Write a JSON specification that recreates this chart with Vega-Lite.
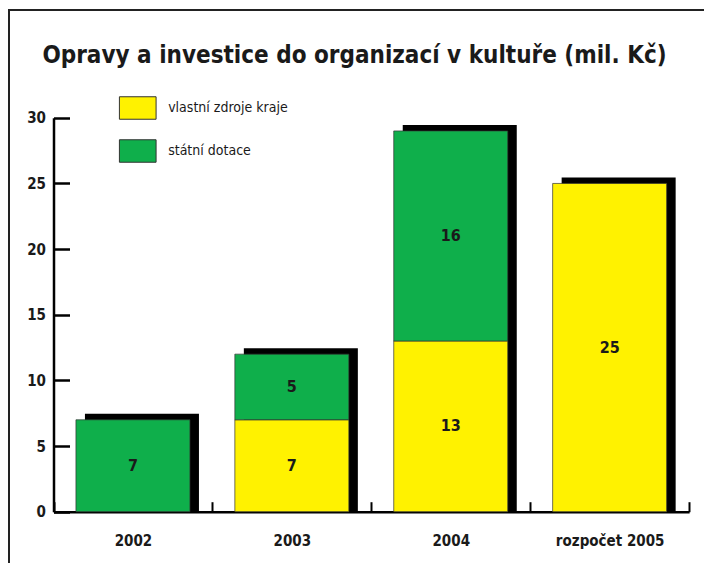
{
  "$schema": "https://vega.github.io/schema/vega-lite/v6.json",
  "width": 695,
  "height": 553,
  "autosize": {"type": "none"},
  "padding": {"left": 9, "top": 10, "right": 0, "bottom": 0},
  "background": "white",
  "title": {
    "text": "Opravy a investice do organizací v kultuře (mil. Kč)",
    "anchor": "middle",
    "offset": -77,
    "baseline": "alphabetic",
    "dx": -2,
    "fontSize": 24,
    "font": "DejaVu Sans Condensed",
    "fontWeight": "bold",
    "color": "#1a1a1a"
  },
  "data": {
    "values": [
      {"year": "2002", "source": "státní dotace", "value": 7},
      {"year": "2003", "source": "vlastní zdroje kraje", "value": 7},
      {"year": "2003", "source": "státní dotace", "value": 5},
      {"year": "2004", "source": "vlastní zdroje kraje", "value": 13},
      {"year": "2004", "source": "státní dotace", "value": 16},
      {"year": "rozpočet 2005", "source": "vlastní zdroje kraje", "value": 25}
    ]
  },
  "transform": [
    {"stack": "value", "groupby": ["year"], "sort": [{"field": "source", "order": "descending"}], "as": ["v0", "v1"]},
    {"calculate": "(datum.v0 + datum.v1) / 2", "as": "mid"}
  ],
  "encoding": {
    "x": {
      "field": "year",
      "type": "nominal",
      "sort": null,
      "scale": {"range": [44.5, 680.1], "paddingInner": 0, "paddingOuter": 0},
      "axis": {
        "title": null,
        "orient": "bottom",
        "offset": -51.3,
        "labelAngle": 0,
        "tickBand": "extent",
        "tickSize": -10,
        "tickWidth": 2,
        "labelPadding": 32
      }
    }
  },
  "layer": [
    {
      "mark": {"type": "bar", "color": "black", "xOffset": 9, "yOffset": -6, "width": {"band": 0.7175}},
      "encoding": {
        "y": {
          "aggregate": "sum",
          "field": "value",
          "type": "quantitative",
          "scale": {"domain": [0, 30], "range": [501.7, 107.8], "nice": false},
          "axis": {
            "title": null,
            "values": [0, 5, 10, 15, 20, 25, 30],
            "offset": -44.5,
            "tickSize": -16,
            "tickWidth": 2.5,
            "labelPadding": 24,
            "grid": false
          }
        }
      }
    },
    {
      "mark": {"type": "bar", "stroke": "#333333", "strokeWidth": 0.7, "width": {"band": 0.7175}},
      "encoding": {
        "y": {"field": "v0", "type": "quantitative"},
        "y2": {"field": "v1"},
        "color": {
          "field": "source",
          "type": "nominal",
          "scale": {"domain": ["vlastní zdroje kraje", "státní dotace"], "range": ["#FFF200", "#0FAF4B"]},
          "legend": {
            "title": null,
            "orient": "none",
            "legendX": 116.75,
            "legendY": 86,
            "padding": 0,
            "symbolType": "M-1.63,-1H1.63V1H-1.63Z",
            "symbolSize": 506,
            "symbolStrokeColor": "#333333",
            "symbolStrokeWidth": 1,
            "symbolOpacity": 1,
            "labelOffset": 18.4,
            "rowPadding": 15,
            "labelFont": "DejaVu Sans Condensed",
            "labelFontSize": 14,
            "labelColor": "#1a1a1a"
          }
        }
      }
    },
    {
      "mark": {"type": "text", "font": "DejaVu Sans Condensed", "fontSize": 16, "fontWeight": "bold", "color": "#1a1a1a", "baseline": "middle"},
      "encoding": {
        "y": {"field": "mid", "type": "quantitative"},
        "text": {"field": "value", "type": "quantitative"}
      }
    }
  ],
  "config": {
    "view": {"stroke": "#222222", "strokeWidth": 2, "strokeDash": [695, 1248, 553]},
    "axis": {
      "domainColor": "black",
      "domainWidth": 2.5,
      "tickColor": "black",
      "labelFont": "DejaVu Sans Condensed",
      "labelFontSize": 15,
      "labelFontWeight": "bold",
      "labelColor": "#1a1a1a"
    }
  }
}
